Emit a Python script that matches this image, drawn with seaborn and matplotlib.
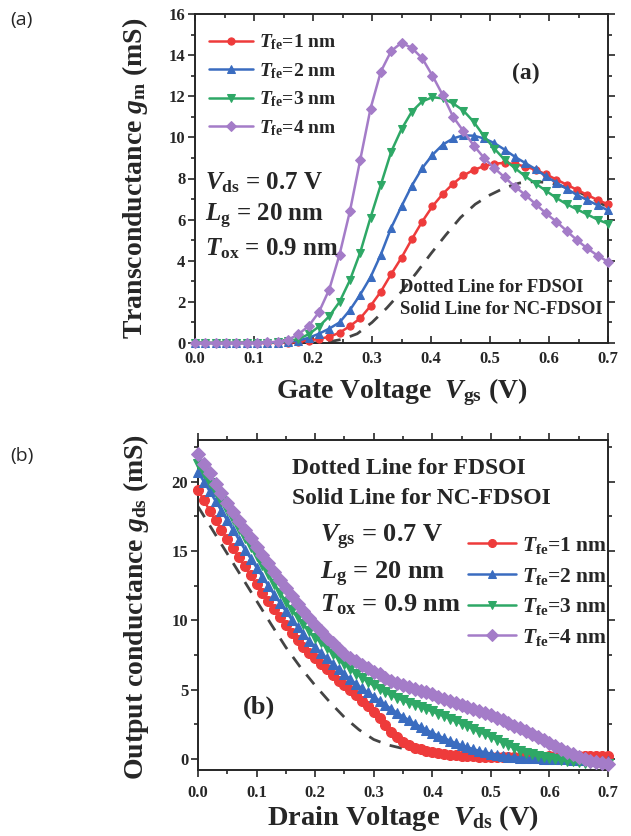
import numpy as np
import pandas as pd
import matplotlib
matplotlib.use("Agg")
import matplotlib.pyplot as plt
from matplotlib.ticker import MultipleLocator
import seaborn as sns

# ---------------- data: panel (a) transconductance ----------------
vgs = np.round(np.arange(41) * 0.0175, 4)
gm_tfe1 = [0.0, 0.0, 0.0, 0.0, 0.0, 0.0, 0.0, 0.0, 0.01, 0.02, 0.05, 0.12, 0.2, 0.3,
           0.5, 0.82, 1.2, 1.8, 2.5, 3.35, 4.15, 5.05, 5.9, 6.65, 7.25, 7.75, 8.15,
           8.42, 8.6, 8.72, 8.76, 8.7, 8.58, 8.42, 8.2, 7.95, 7.7, 7.45, 7.2, 6.95, 6.75]
gm_tfe2 = [0.0, 0.0, 0.0, 0.0, 0.0, 0.0, 0.0, 0.01, 0.02, 0.05, 0.12, 0.25, 0.45, 0.7,
           1.0, 1.6, 2.35, 3.2, 4.3, 5.6, 6.65, 7.65, 8.5, 9.15, 9.65, 9.95, 10.1,
           10.08, 9.95, 9.72, 9.4, 9.05, 8.75, 8.45, 8.1, 7.8, 7.5, 7.2, 6.95, 6.7, 6.45]
gm_tfe3 = [0.0, 0.0, 0.0, 0.0, 0.0, 0.0, 0.01, 0.02, 0.04, 0.08, 0.2, 0.42, 0.8, 1.3,
           2.0, 3.05, 4.4, 6.1, 7.7, 9.3, 10.4, 11.25, 11.75, 11.95, 11.9, 11.65, 11.3,
           10.75, 10.05, 9.45, 8.9, 8.5, 8.1, 7.75, 7.4, 7.05, 6.75, 6.5, 6.25, 6.0, 5.8]
gm_tfe4 = [0.0, 0.0, 0.0, 0.0, 0.01, 0.01, 0.02, 0.03, 0.06, 0.15, 0.42, 0.82, 1.5, 2.6,
           4.3, 6.4, 8.9, 11.4, 13.2, 14.2, 14.6, 14.35, 13.85, 13.0, 12.05, 11.0, 10.3,
           9.6, 9.0, 8.5, 8.05, 7.6, 7.2, 6.75, 6.3, 5.9, 5.45, 5.0, 4.6, 4.25, 3.95]
vgs_fd = np.round(np.arange(29) * 0.025, 4)
gm_fdsoi = [0.0, 0.0, 0.0, 0.0, 0.0, 0.0, 0.0, 0.0, 0.0, 0.05, 0.18, 0.45, 1.0, 1.7,
            2.5, 3.4, 4.35, 5.25, 6.1, 6.75, 7.2, 7.55, 7.78, 7.85, 7.8, 7.6, 7.35, 7.0, 6.6]

# ---------------- data: panel (b) output conductance ----------------
vds = np.round(np.arange(71) * 0.01, 4)
gds_tfe1 = [19.4, 18.65, 17.9, 17.2, 16.5, 15.85, 15.2, 14.55, 13.9, 13.25, 12.6, 12.0, 11.4,
            10.8, 10.2, 9.65, 9.1, 8.6, 8.1, 7.65, 7.25, 6.85, 6.45, 6.05, 5.65, 5.3, 4.95,
            4.6, 4.2, 3.8, 3.4, 2.95, 2.45, 1.95, 1.55, 1.25, 1.0, 0.82, 0.68, 0.57, 0.48,
            0.4, 0.34, 0.29, 0.25, 0.22, 0.2, 0.18, 0.17, 0.16, 0.15, 0.15, 0.15, 0.15, 0.15,
            0.15, 0.16, 0.16, 0.17, 0.17, 0.18, 0.18, 0.18, 0.19, 0.19, 0.19, 0.2, 0.2, 0.2,
            0.2, 0.2]
gds_tfe2 = [20.7, 20.0, 19.3, 18.6, 17.9, 17.2, 16.5, 15.8, 15.1, 14.45, 13.8, 13.15, 12.5,
            11.85, 11.25, 10.65, 10.05, 9.5, 9.0, 8.5, 8.05, 7.65, 7.25, 6.85, 6.5, 6.1, 5.75,
            5.4, 5.1, 4.8, 4.5, 4.2, 3.9, 3.6, 3.32, 3.05, 2.8, 2.55, 2.32, 2.1, 1.88, 1.68,
            1.5, 1.32, 1.14, 0.98, 0.84, 0.71, 0.58, 0.48, 0.38, 0.3, 0.23, 0.17, 0.13, 0.1,
            0.08, 0.06, 0.04, 0.02, 0.01, 0.0, -0.02, -0.04, -0.05, -0.07, -0.08, -0.1, -0.12,
            -0.13, -0.15]
gds_tfe3 = [21.3, 20.6, 19.9, 19.25, 18.6, 17.95, 17.3, 16.6, 15.95, 15.3, 14.65, 14.0, 13.3,
            12.65, 12.0, 11.35, 10.75, 10.2, 9.7, 9.2, 8.75, 8.4, 8.0, 7.6, 7.2, 6.85, 6.5,
            6.15, 5.85, 5.55, 5.3, 5.05, 4.8, 4.6, 4.4, 4.22, 4.05, 3.9, 3.75, 3.58, 3.42,
            3.25, 3.08, 2.9, 2.72, 2.53, 2.35, 2.15, 1.96, 1.77, 1.58, 1.38, 1.18, 0.98, 0.78,
            0.6, 0.45, 0.32, 0.22, 0.13, 0.06, 0.0, -0.06, -0.12, -0.17, -0.22, -0.26, -0.3,
            -0.34, -0.37, -0.4]
gds_tfe4 = [22.0, 21.3, 20.6, 19.85, 19.15, 18.45, 17.8, 17.15, 16.5, 15.9, 15.3, 14.7, 14.1,
            13.5, 12.9, 12.3, 11.75, 11.2, 10.7, 10.15, 9.65, 9.2, 8.75, 8.35, 7.95, 7.6, 7.3,
            7.05, 6.8, 6.55, 6.3, 6.1, 5.85, 5.65, 5.5, 5.35, 5.2, 5.05, 4.9, 4.8, 4.65, 4.5,
            4.35, 4.2, 4.05, 3.9, 3.75, 3.6, 3.45, 3.3, 3.15, 2.98, 2.8, 2.6, 2.4, 2.2, 2.0,
            1.8, 1.58, 1.35, 1.12, 0.9, 0.7, 0.5, 0.32, 0.15, 0.0, -0.12, -0.22, -0.3, -0.35]
vds_fd = np.round(np.arange(29) * 0.025, 4)
gds_fdsoi = [18.2, 16.5, 14.8, 13.1, 11.4, 9.7, 8.05, 6.6, 5.3, 4.1, 3.0, 2.1, 1.4, 1.0,
             0.75, 0.55, 0.42, 0.33, 0.27, 0.22, 0.19, 0.17, 0.17, 0.17, 0.17, 0.17, 0.17,
             0.17, 0.17]

tfe_labels = ["1", "2", "3", "4"]
colors = ["#EE3B3B", "#3A6CC0", "#2EA866", "#A47CC8"]
markers = ["o", "^", "v", "D"]
xtick_labels = ["0.0", "0.1", "0.2", "0.3", "0.4", "0.5", "0.6", "0.7"]

# ---------------- style ----------------
sns.set_theme(style="ticks")
plt.rcParams["font.family"] = ["Liberation Serif", "DejaVu Serif"]
plt.rcParams["font.weight"] = "bold"
plt.rcParams["mathtext.fontset"] = "custom"
plt.rcParams["mathtext.rm"] = "Liberation Serif:bold"
plt.rcParams["mathtext.it"] = "Liberation Serif:italic:bold"
plt.rcParams["mathtext.bf"] = "Liberation Serif:bold"
plt.rcParams["axes.linewidth"] = 1.4

fig = plt.figure(figsize=(6.31, 8.36), dpi=100)
ax1 = fig.add_axes([195 / 631, 1 - 343 / 836, 413 / 631, 329 / 836])
ax2 = fig.add_axes([198 / 631, 1 - 770 / 836, 410 / 631, 330 / 836])

def leg_label(t):
    return r"$\mathit{T}_{\mathrm{fe}}$=" + t + " nm"

# ---------- panel (a) ----------
sns.lineplot(x=vgs_fd, y=gm_fdsoi, ax=ax1, color="#444444", linewidth=2.0,
             linestyle=(0, (4.5, 3.5)), zorder=1)
for ys, c, m, t in zip([gm_tfe1, gm_tfe2, gm_tfe3, gm_tfe4], colors, markers, tfe_labels):
    sns.lineplot(x=vgs, y=ys, ax=ax1, color=c, marker=m, markersize=5.2,
                 markeredgecolor=c, linewidth=1.8, sort=False, zorder=3,
                 clip_on=False, label=leg_label(t))

ax1.set_xlim(0, 0.7)
ax1.set_ylim(0, 16)
ax1.xaxis.set_minor_locator(MultipleLocator(0.05))
ax1.yaxis.set_major_locator(MultipleLocator(2))
ax1.yaxis.set_minor_locator(MultipleLocator(1))
ax1.set_xticks(np.round(np.arange(0, 0.71, 0.1), 1))
ax1.set_xticklabels(xtick_labels)
ax1.tick_params(axis="both", which="both", labelsize=12, width=1.2, top=True, right=True)
ax1.tick_params(axis="y", which="major", length=5, direction="out", pad=2)
ax1.tick_params(axis="y", which="minor", length=3, direction="out")
ax1.tick_params(axis="x", which="major", length=5, direction="in", pad=6)
ax1.tick_params(axis="x", which="minor", length=3, direction="in")
for lab in ax1.get_xticklabels() + ax1.get_yticklabels():
    lab.set_fontweight("bold")

ax1.set_xlabel(r"Gate Voltage  $\mathit{V}_{\mathrm{gs}}$ (V)", fontsize=20, fontweight="bold")
ax1.set_ylabel(r"Transconductance $\mathit{g}_{\mathrm{m}}$ (mS)", fontsize=20, fontweight="bold")
ax1.xaxis.set_label_coords(0.5, -0.10)
ax1.yaxis.set_label_coords(-0.11, 0.5)

ax1.legend(loc="upper left", bbox_to_anchor=(0.0, 0.985), frameon=False, fontsize=14,
           handlelength=2.3, handletextpad=0.3, labelspacing=0.45, borderaxespad=0.3)

ax1.text(0.80, 0.82, "(a)", transform=ax1.transAxes, fontsize=17, fontweight="bold",
         ha="center", va="center")
ax1.text(0.024, 0.486, r"$\mathit{V}_{\mathrm{ds}}$ = 0.7 V", transform=ax1.transAxes,
         fontsize=18, fontweight="bold", ha="left", va="center")
ax1.text(0.024, 0.385, r"$\mathit{L}_{\mathrm{g}}$ = 20 nm", transform=ax1.transAxes,
         fontsize=18, fontweight="bold", ha="left", va="center")
ax1.text(0.024, 0.288, r"$\mathit{T}_{\mathrm{ox}}$ = 0.9 nm", transform=ax1.transAxes,
         fontsize=18, fontweight="bold", ha="left", va="center")
ax1.text(0.496, 0.170, "Dotted Line for FDSOI", transform=ax1.transAxes,
         fontsize=13.3, fontweight="bold", ha="left", va="center")
ax1.text(0.496, 0.103, "Solid Line for NC-FDSOI", transform=ax1.transAxes,
         fontsize=13.3, fontweight="bold", ha="left", va="center")

# ---------- panel (b) ----------
sns.lineplot(x=vds_fd, y=gds_fdsoi, ax=ax2, color="#444444", linewidth=2.0,
             linestyle=(0, (4.5, 3.5)), zorder=1)
for ys, c, m, t in zip([gds_tfe1, gds_tfe2, gds_tfe3, gds_tfe4], colors, markers, tfe_labels):
    sns.lineplot(x=vds, y=ys, ax=ax2, color=c, marker=m, markersize=7.2,
                 markeredgecolor=c, linewidth=1.8, sort=False, zorder=3,
                 clip_on=False, label=leg_label(t))

ax2.set_xlim(0, 0.7)
ax2.set_ylim(-0.8, 23.0)
ax2.xaxis.set_minor_locator(MultipleLocator(0.05))
ax2.yaxis.set_minor_locator(MultipleLocator(2.5))
ax2.set_xticks(np.round(np.arange(0, 0.71, 0.1), 1))
ax2.set_xticklabels(xtick_labels)
ax2.set_yticks([0, 5, 10, 15, 20])
ax2.tick_params(axis="both", which="both", labelsize=12, width=1.2, top=True, right=True)
ax2.tick_params(axis="both", which="major", length=5, direction="out", pad=2)
ax2.tick_params(axis="both", which="minor", length=3, direction="out")
ax2.tick_params(axis="x", which="major", pad=6)
for lab in ax2.get_xticklabels() + ax2.get_yticklabels():
    lab.set_fontweight("bold")

ax2.set_xlabel(r"Drain Voltage  $\mathit{V}_{\mathrm{ds}}$ (V)", fontsize=20.5, fontweight="bold")
ax2.set_ylabel(r"Output conductance $\mathit{g}_{\mathrm{ds}}$ (mS)", fontsize=20, fontweight="bold")
ax2.xaxis.set_label_coords(0.5, -0.10)
ax2.yaxis.set_label_coords(-0.115, 0.494)

leg2 = ax2.legend(loc="upper right", bbox_to_anchor=(1.025, 0.745), frameon=False, fontsize=15.5,
                  handlelength=2.2, handletextpad=0.3, labelspacing=0.45, borderaxespad=0.1,
                  markerscale=0.8)

ax2.text(0.229, 0.915, "Dotted Line for FDSOI", transform=ax2.transAxes,
         fontsize=17, fontweight="bold", ha="left", va="center")
ax2.text(0.229, 0.824, "Solid Line for NC-FDSOI", transform=ax2.transAxes,
         fontsize=17, fontweight="bold", ha="left", va="center")
ax2.text(0.298, 0.706, r"$\mathit{V}_{\mathrm{gs}}$ = 0.7 V", transform=ax2.transAxes,
         fontsize=19, fontweight="bold", ha="left", va="center")
ax2.text(0.298, 0.594, r"$\mathit{L}_{\mathrm{g}}$ = 20 nm", transform=ax2.transAxes,
         fontsize=19, fontweight="bold", ha="left", va="center")
ax2.text(0.298, 0.500, r"$\mathit{T}_{\mathrm{ox}}$ = 0.9 nm", transform=ax2.transAxes,
         fontsize=19, fontweight="bold", ha="left", va="center")
ax2.text(0.149, 0.19, "(b)", transform=ax2.transAxes, fontsize=19, fontweight="bold",
         ha="center", va="center")

# outer panel labels
fig.text(10 / 631, 1 - 20 / 836, "(a)", fontsize=14, fontweight="normal",
         family=["Open Sans", "DejaVu Sans"], ha="left", va="center")
fig.text(10 / 631, 1 - 456 / 836, "(b)", fontsize=14, fontweight="normal",
         family=["Open Sans", "DejaVu Sans"], ha="left", va="center")

fig.savefig("out.png", dpi=100)
